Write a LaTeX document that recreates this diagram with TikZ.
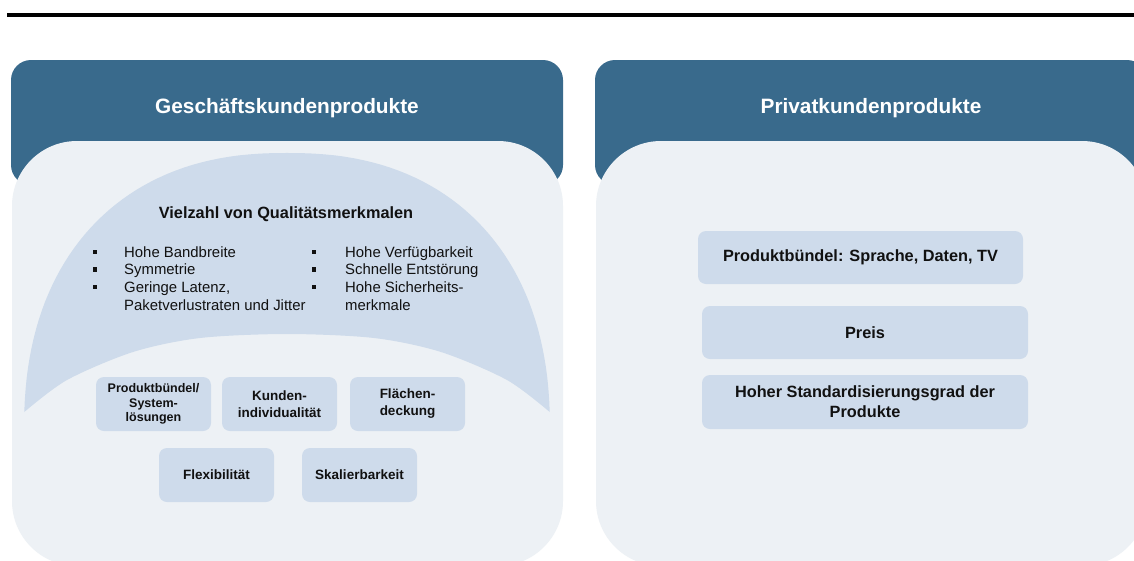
\documentclass[tikz,border=0pt]{standalone}
\usepackage{fontspec}
\setmainfont{Liberation Sans}
\definecolor{hdr}{HTML}{396A8C}
\definecolor{pnl}{HTML}{EDF1F5}
\definecolor{lbl}{HTML}{CEDBEB}
\definecolor{ink}{HTML}{111111}
\begin{document}
\begin{tikzpicture}[x=1pt,y=-1pt,
  hdrshape/.style={fill=hdr,rounded corners=20pt},
  pnlshape/.style={fill=pnl,rounded corners=65pt},
  hdrtitle/.style={anchor=base,inner sep=0pt,text=white,font=\bfseries\fontsize{20.8}{24}\selectfont},
  subtitle/.style={anchor=base,inner sep=0pt,text=ink,font=\bfseries\fontsize{16.3}{19}\selectfont},
  item/.style={anchor=base west,inner sep=0pt,text=ink,font=\fontsize{14.9}{18}\selectfont},
  bullet/.style={fill=ink,inner sep=0pt,minimum size=4.5pt},
  featbox/.style={fill=lbl,rounded corners=8pt,minimum width=115pt,minimum height=54pt,inner sep=0pt,align=center,text=ink,font=\bfseries\fontsize{13.5}{17}\selectfont},
  widebox/.style={fill=lbl,rounded corners=8pt,minimum width=326pt,minimum height=54pt,inner sep=0pt,align=center,text=ink,font=\bfseries\fontsize{16.3}{20}\selectfont}
]
\useasboundingbox (0,0) rectangle (1134,560);
\clip (0,0) rectangle (1134,560);
\fill[white] (0,0) rectangle (1134,560);

% top rule
\fill[black] (7,13.3) rectangle (1134,16.7);

% left panel
\fill[hdrshape] (11,60) rectangle (563,185);
\fill[pnlshape] (12,141) rectangle (563,566);
\node[hdrtitle] (tl) at (287,113) {Geschäftskundenprodukte};

% dome
\fill[lbl] plot[domain=2.9:89.9,samples=45] ({287+263*pow(abs(cos(\x)),0.8696)},{433-280*pow(abs(sin(\x)),0.8696)})
  -- plot[domain=90.1:177.1,samples=45] ({287-263*pow(abs(cos(\x)),0.8696)},{433-280*pow(abs(sin(\x)),0.8696)})
  -- plot[smooth] coordinates {(24.3,412) (67,380) (133,352) (200,338) (287,334) (374,338) (441,352) (507,380) (549.7,412)} -- cycle;

\node[subtitle] (q) at (286,218) {Vielzahl von Qualitätsmerkmalen};

\node[bullet] (b1) at (95,252) {};
\node[bullet] (b2) at (95,269.5) {};
\node[bullet] (b3) at (95,287) {};
\node[item] (i1) at (124,257.3) {Hohe Bandbreite};
\node[item] (i2) at (124,274.8) {Symmetrie};
\node[item] (i3) at (124,292.3) {Geringe Latenz,};
\node[item] (i3b) at (124,310) {Paketverlustraten und Jitter};

\node[bullet] (b4) at (314,252) {};
\node[bullet] (b5) at (314,269.5) {};
\node[bullet] (b6) at (314,287) {};
\node[item] (i4) at (345,257.3) {Hohe Verfügbarkeit};
\node[item] (i5) at (345,274.8) {Schnelle Entstörung};
\node[item] (i6) at (345,292.3) {Hohe Sicherheits-};
\node[item] (i6b) at (345,310) {merkmale};

\node[featbox,font=\bfseries\fontsize{12.5}{14.5}\selectfont] (f1) at (153.5,404) {Produktbündel/\\System-\\lösungen};
\node[featbox] (f2) at (279.5,404) {Kunden-\\individualität};
\node[featbox] (f3) at (407.5,404) {Flächen-\\deckung};
\node[featbox] (f4) at (216.5,475) {Flexibilität};
\node[featbox] (f5) at (359.5,475) {Skalierbarkeit};

% right panel
\fill[hdrshape] (595,60) rectangle (1147,185);
\fill[pnlshape] (596,141) rectangle (1147,566);
\node[hdrtitle] (tr) at (871,113) {Privatkundenprodukte};

\node[widebox,minimum width=325pt,minimum height=53pt] (r1) at (860.5,257.5) {Produktbündel: Sprache, Daten, TV};
\node[widebox,minimum height=53pt] (r2) at (865,332.5) {Preis};
\node[widebox] (r3) at (865,402) {Hoher Standardisierungsgrad der\\Produkte};
\end{tikzpicture}
\end{document}
